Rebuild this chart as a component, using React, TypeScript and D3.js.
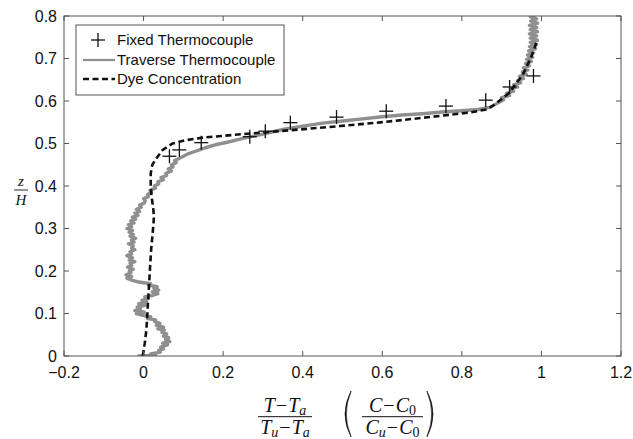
import React from "react";
import * as d3 from "d3";

const xTicks = [-0.2, 0, 0.2, 0.4, 0.6, 0.8, 1, 1.2];
const xTickLabels = ["\u22120.2", "0", "0.2", "0.4", "0.6", "0.8", "1", "1.2"];
const yTicks = [0, 0.1, 0.2, 0.3, 0.4, 0.5, 0.6, 0.7, 0.8];
const yTickLabels = ["0", "0.1", "0.2", "0.3", "0.4", "0.5", "0.6", "0.7", "0.8"];

const legendLabels = ["Fixed Thermocouple", "Traverse Thermocouple", "Dye Concentration"];

// Fixed thermocouple: [value, z/H]
const fixedPoints: [number, number][] = [
  [0.065, 0.47], [0.09, 0.485], [0.145, 0.502], [0.267, 0.516], [0.306, 0.529],
  [0.369, 0.549], [0.485, 0.562], [0.61, 0.576], [0.76, 0.588], [0.86, 0.602],
  [0.92, 0.633], [0.98, 0.659],
];

// Traverse thermocouple: [value, z/H]
const traversePoints: [number, number][] = [
  [-0.015, 0.0], [0.03, 0.002], [0.018, 0.005], [0.042, 0.009], [0.038, 0.013], [0.05, 0.017],
  [0.043, 0.021], [0.06, 0.026], [0.048, 0.03], [0.066, 0.034], [0.055, 0.039], [0.063, 0.043],
  [0.05, 0.047], [0.058, 0.052], [0.046, 0.056], [0.052, 0.061], [0.036, 0.064], [0.05, 0.068],
  [0.032, 0.072], [0.041, 0.077], [0.028, 0.081], [0.03, 0.085], [0.01, 0.088], [0.018, 0.092],
  [-0.004, 0.096], [-0.018, 0.1], [0.002, 0.103], [-0.022, 0.107], [-0.008, 0.111], [-0.016, 0.115],
  [0.004, 0.119], [-0.012, 0.123], [0.008, 0.127], [-0.004, 0.131], [0.012, 0.135], [0.003, 0.139],
  [0.024, 0.143], [0.036, 0.147], [0.022, 0.151], [0.038, 0.155], [0.026, 0.159], [0.034, 0.163],
  [0.012, 0.167], [0.018, 0.17], [-0.012, 0.174], [-0.028, 0.178], [-0.042, 0.183], [-0.03, 0.187],
  [-0.044, 0.191], [-0.032, 0.196], [-0.036, 0.2], [-0.026, 0.204], [-0.04, 0.209], [-0.03, 0.213],
  [-0.034, 0.218], [-0.022, 0.222], [-0.036, 0.226], [-0.028, 0.231], [-0.042, 0.236], [-0.03, 0.24],
  [-0.034, 0.245], [-0.022, 0.25], [-0.03, 0.254], [-0.026, 0.259], [-0.038, 0.264], [-0.024, 0.268],
  [-0.03, 0.273], [-0.02, 0.277], [-0.034, 0.282], [-0.026, 0.286], [-0.036, 0.291], [-0.028, 0.295],
  [-0.042, 0.3], [-0.03, 0.304], [-0.038, 0.309], [-0.024, 0.313], [-0.032, 0.318], [-0.02, 0.322],
  [-0.028, 0.327], [-0.014, 0.331], [-0.022, 0.336], [-0.01, 0.34], [-0.018, 0.345], [-0.006, 0.35],
  [-0.01, 0.355], [0.002, 0.36], [0.004, 0.365], [0.0, 0.37], [0.012, 0.375], [0.01, 0.38],
  [0.02, 0.385], [0.016, 0.39], [0.03, 0.395], [0.027, 0.4], [0.038, 0.405], [0.036, 0.41],
  [0.05, 0.415], [0.044, 0.42], [0.058, 0.425], [0.056, 0.43], [0.07, 0.435], [0.062, 0.44],
  [0.074, 0.445], [0.07, 0.45], [0.082, 0.455], [0.078, 0.46], [0.09, 0.465], [0.1, 0.47],
  [0.11, 0.475], [0.125, 0.48], [0.14, 0.485], [0.155, 0.49], [0.18, 0.497], [0.21, 0.503],
  [0.25, 0.512], [0.3, 0.522], [0.35, 0.533], [0.4, 0.541], [0.45, 0.548], [0.5, 0.553],
  [0.55, 0.558], [0.6, 0.563], [0.65, 0.567], [0.7, 0.57], [0.75, 0.574], [0.8, 0.577],
  [0.84, 0.58], [0.87, 0.585], [0.89, 0.595], [0.905, 0.603], [0.9, 0.608], [0.92, 0.613],
  [0.912, 0.618], [0.93, 0.623], [0.922, 0.628], [0.94, 0.633], [0.93, 0.638], [0.948, 0.643],
  [0.94, 0.648], [0.955, 0.653], [0.945, 0.658], [0.962, 0.663], [0.952, 0.668], [0.966, 0.673],
  [0.955, 0.678], [0.97, 0.683], [0.96, 0.688], [0.975, 0.693], [0.963, 0.698], [0.978, 0.703],
  [0.965, 0.708], [0.98, 0.713], [0.968, 0.718], [0.985, 0.723], [0.97, 0.728], [0.988, 0.733],
  [0.972, 0.738], [0.99, 0.743], [0.972, 0.748], [0.988, 0.753], [0.97, 0.758], [0.99, 0.763],
  [0.972, 0.768], [0.988, 0.773], [0.97, 0.778], [0.99, 0.783], [0.973, 0.788], [0.988, 0.793],
  [0.972, 0.798], [0.985, 0.8],
];

// Dye concentration: [value, z/H]
const dyePoints: [number, number][] = [
  [-0.002, 0], [0.003, 0.03], [0.007, 0.061], [0.009, 0.09], [0.011, 0.124], [0.013, 0.155],
  [0.015, 0.187], [0.017, 0.22], [0.019, 0.25], [0.022, 0.28], [0.025, 0.312], [0.026, 0.33],
  [0.024, 0.35], [0.02, 0.375], [0.018, 0.4], [0.018, 0.43], [0.022, 0.45], [0.032, 0.465],
  [0.048, 0.485], [0.073, 0.5], [0.107, 0.508], [0.15, 0.514], [0.224, 0.52], [0.3, 0.526],
  [0.392, 0.533], [0.493, 0.541], [0.61, 0.551], [0.745, 0.565], [0.82, 0.573], [0.862, 0.58],
  [0.88, 0.59], [0.896, 0.602], [0.92, 0.62], [0.937, 0.642], [0.952, 0.66], [0.963, 0.681],
  [0.975, 0.705], [0.984, 0.728], [0.987, 0.738],
];

const W = 633;
const H = 439;
const L = 64, R = 621, T = 16, B = 356;

const sans = "'Liberation Sans', Arial, Helvetica, sans-serif";
const serif = "'Liberation Serif', 'Times New Roman', serif";
const axisColor = "#555";
const grayColor = "#8f8f8f";

function Paren({ x, top, bottom, left }: { x: number; top: number; bottom: number; left: boolean }) {
  const mid = (top + bottom) / 2;
  const s = left ? 1 : -1;
  const w = 9;
  const d = `M ${x + s * w} ${top} Q ${x - s * 3} ${mid} ${x + s * w} ${bottom} L ${x + s * (w - 0.2)} ${bottom - 1.2} Q ${x - s * 0.2} ${mid} ${x + s * (w - 0.2)} ${top + 1.2} Z`;
  return <path d={d} fill="#111" stroke="#111" strokeWidth={0.6} />;
}

export default function App() {
  const x = d3.scaleLinear().domain([-0.2, 1.2]).range([L, R]);
  const y = d3.scaleLinear().domain([0, 0.8]).range([B, T]);
  const line = d3
    .line<[number, number]>()
    .x((d) => x(d[0]))
    .y((d) => y(d[1]));

  const tick = 5;
  const plusR = 7;

  const mathSize = 20;
  const subSize = 14;

  return (
    <svg
      width={W}
      height={H}
      style={{ position: "absolute", left: 0, top: 0, background: "#fff" }}
      xmlns="http://www.w3.org/2000/svg"
    >
      <rect x={0} y={0} width={W} height={H} fill="#fff" />
      <defs>
        <clipPath id="plotclip">
          <rect x={L} y={T} width={R - L} height={B - T} />
        </clipPath>
      </defs>

      <g clipPath="url(#plotclip)">
        <path
          d={line(traversePoints) || ""}
          fill="none"
          stroke={grayColor}
          strokeWidth={3.4}
          strokeLinejoin="round"
        />
        <path
          d={line(dyePoints) || ""}
          fill="none"
          stroke="#111"
          strokeWidth={2.6}
          strokeDasharray="6,3.5"
        />
        {fixedPoints.map((p, i) => (
          <g key={i} stroke="#111" strokeWidth={1.3}>
            <line x1={x(p[0]) - plusR} x2={x(p[0]) + plusR} y1={y(p[1])} y2={y(p[1])} />
            <line x1={x(p[0])} x2={x(p[0])} y1={y(p[1]) - plusR} y2={y(p[1]) + plusR} />
          </g>
        ))}
      </g>

      <rect x={L} y={T} width={R - L} height={B - T} fill="none" stroke={axisColor} strokeWidth={1} />

      {xTicks.map((t, i) => (
        <g key={"xt" + i} stroke={axisColor} strokeWidth={1}>
          <line x1={x(t)} x2={x(t)} y1={B} y2={B - tick} />
          <line x1={x(t)} x2={x(t)} y1={T} y2={T + tick} />
        </g>
      ))}
      {yTicks.map((t, i) => (
        <g key={"yt" + i} stroke={axisColor} strokeWidth={1}>
          <line x1={L} x2={L + tick} y1={y(t)} y2={y(t)} />
          <line x1={R} x2={R - tick} y1={y(t)} y2={y(t)} />
        </g>
      ))}

      {xTicks.map((t, i) => (
        <text
          key={"xl" + i}
          x={x(t)}
          y={377.5}
          textAnchor="middle"
          fontFamily={sans}
          fontSize={16}
          fill="#111"
        >
          {xTickLabels[i]}
        </text>
      ))}
      {yTicks.map((t, i) => (
        <text
          key={"yl" + i}
          x={57}
          y={y(t)}
          dy="0.36em"
          textAnchor="end"
          fontFamily={sans}
          fontSize={16}
          fill="#111"
        >
          {yTickLabels[i]}
        </text>
      ))}

      <rect x={76} y={25} width={208} height={70} fill="#fff" stroke={axisColor} strokeWidth={1} />
      <g stroke="#111" strokeWidth={1.3}>
        <line x1={98 - plusR} x2={98 + plusR} y1={40} y2={40} />
        <line x1={98} x2={98} y1={40 - plusR} y2={40 + plusR} />
      </g>
      <line x1={83} x2={115} y1={60} y2={60} stroke={grayColor} strokeWidth={2.2} />
      <line x1={83} x2={115} y1={79} y2={79} stroke="#111" strokeWidth={2.6} strokeDasharray="6,3.5" />
      {legendLabels.map((s, i) => (
        <text
          key={"lg" + i}
          x={117}
          y={[40, 60, 79][i]}
          dy="0.36em"
          fontFamily={sans}
          fontSize={15}
          fill="#111"
        >
          {s}
        </text>
      ))}

      <text x={21} y={186} textAnchor="middle" fontFamily={serif} fontStyle="italic" fontSize={15} fill="#111">
        z
      </text>
      <line x1={14} x2={28} y1={190} y2={190} stroke="#111" strokeWidth={0.9} />
      <text x={21} y={205} textAnchor="middle" fontFamily={serif} fontStyle="italic" fontSize={15} fill="#111">
        H
      </text>

      <g fontFamily={serif} fontSize={mathSize} fill="#111">
        <text x={285} y={411.5} textAnchor="middle">
          <tspan fontStyle="italic">T</tspan>
          <tspan dx={1}>{"\u2212"}</tspan>
          <tspan dx={1} fontStyle="italic">T</tspan>
          <tspan fontStyle="italic" fontSize={subSize} dy={3}>a</tspan>
        </text>
        <line x1={258} x2={312} y1={416.7} y2={416.7} stroke="#111" strokeWidth={1} />
        <text x={285} y={433.5} textAnchor="middle">
          <tspan fontStyle="italic">T</tspan>
          <tspan fontStyle="italic" fontSize={subSize} dy={3}>u</tspan>
          <tspan dy={-3} dx={1}>{"\u2212"}</tspan>
          <tspan dx={1} fontStyle="italic">T</tspan>
          <tspan fontStyle="italic" fontSize={subSize} dy={3}>a</tspan>
        </text>

        <Paren x={342} top={391} bottom={437} left={true} />
        <text x={392.5} y={411.5} textAnchor="middle">
          <tspan fontStyle="italic">C</tspan>
          <tspan dx={1}>{"\u2212"}</tspan>
          <tspan dx={1} fontStyle="italic">C</tspan>
          <tspan fontSize={subSize} dy={3}>0</tspan>
        </text>
        <line x1={362} x2={423} y1={416.7} y2={416.7} stroke="#111" strokeWidth={1} />
        <text x={392.5} y={433.5} textAnchor="middle">
          <tspan fontStyle="italic">C</tspan>
          <tspan fontStyle="italic" fontSize={subSize} dy={3}>u</tspan>
          <tspan dy={-3} dx={1}>{"\u2212"}</tspan>
          <tspan dx={1} fontStyle="italic">C</tspan>
          <tspan fontSize={subSize} dy={3}>0</tspan>
        </text>
        <Paren x={436} top={391} bottom={437} left={false} />
      </g>
    </svg>
  );
}
